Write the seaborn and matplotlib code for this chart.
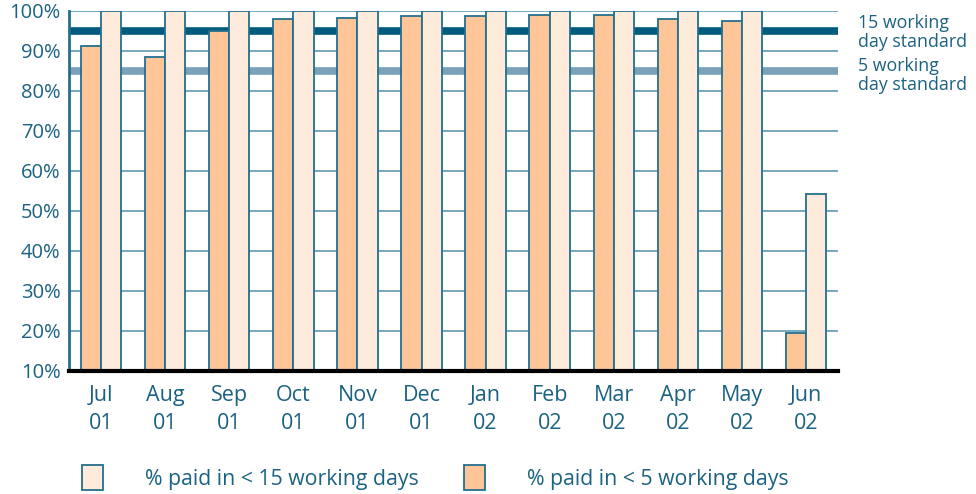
import pandas as pd
import seaborn as sns
import matplotlib.pyplot as plt
from matplotlib.patches import Patch

# Dati
mesi = ["Jul\n01", "Aug\n01", "Sep\n01", "Oct\n01", "Nov\n01", "Dec\n01",
        "Jan\n02", "Feb\n02", "Mar\n02", "Apr\n02", "May\n02", "Jun\n02"]
paid_5 = [91.2, 88.5, 95.0, 98.0, 98.3, 98.6, 98.6, 99.0, 99.0, 98.0, 97.5, 19.6]
paid_15 = [100, 100, 100, 100, 100, 100, 100, 100, 100, 100, 100, 54.2]
std_15 = 95
std_5 = 85

lab5 = "% paid in < 5 working days"
lab15 = "% paid in < 15 working days"

df = pd.DataFrame({
    "mese": mesi * 2,
    "valore": paid_5 + paid_15,
    "serie": [lab5] * len(mesi) + [lab15] * len(mesi),
})

teal = "#1b6282"
edge = "#236f8c"
grid_c = "#5e9bb3"
orange = "#fdc598"
light = "#feebdc"

sns.set_style("white")
plt.rcParams["font.family"] = ["Open Sans", "DejaVu Sans"]

fig = plt.figure(figsize=(9.76, 4.94), dpi=100)
ax = fig.add_axes([0.0707, 0.249, 0.788, 0.729])

sns.barplot(data=df, x="mese", y="valore", hue="serie", hue_order=[lab5, lab15],
            palette=[orange, light], width=0.63, edgecolor=edge, linewidth=1.3,
            saturation=1, ax=ax, legend=False, zorder=3)

ax.set_ylim(10, 100)
ax.set_xlim(-0.5, 11.5)
ax.set_yticks(range(10, 101, 10))
ax.set_yticklabels([f"{v}%" for v in range(10, 101, 10)])
ax.yaxis.grid(True, color=grid_c, linewidth=1.2, zorder=0)
ax.set_axisbelow(True)

# linee degli standard
ax.axhline(std_15, color="#005b7e", linewidth=5.5, zorder=2)
ax.axhline(std_5, color="#7aa0ba", linewidth=5.5, zorder=2)

for s in ["top", "right"]:
    ax.spines[s].set_visible(False)
ax.spines["left"].set_color(edge)
ax.spines["left"].set_linewidth(2)
ax.spines["bottom"].set_color("black")
ax.spines["bottom"].set_linewidth(3)
ax.spines["bottom"].set_zorder(5)

ax.tick_params(axis="y", length=0, labelsize=14.5, labelcolor=teal, pad=6)
ax.tick_params(axis="x", length=0, labelsize=15.5, labelcolor=teal, pad=10)
ax.set_xlabel("")
ax.set_ylabel("")
for t in ax.get_xticklabels():
    t.set_linespacing(1.45)

ax.text(1.026, 0.94, "15 working\nday standard", transform=ax.transAxes,
        fontsize=12.8, color=teal, va="center", ha="left", linespacing=1.05)
ax.text(1.026, 0.82, "5 working\nday standard", transform=ax.transAxes,
        fontsize=12.8, color=teal, va="center", ha="left", linespacing=1.05)

handles = [Patch(facecolor=light, edgecolor=edge, linewidth=1.3),
           Patch(facecolor=orange, edgecolor=edge, linewidth=1.3)]
fig.legend(handles, [lab15, lab5], loc="lower left", bbox_to_anchor=(0.064, -0.031),
           ncol=2, frameon=False, fontsize=15.3, labelcolor=teal,
           handlelength=1.0, handleheight=1.45, columnspacing=2.1, handletextpad=2.0)

fig.savefig("out.png", dpi=100)
